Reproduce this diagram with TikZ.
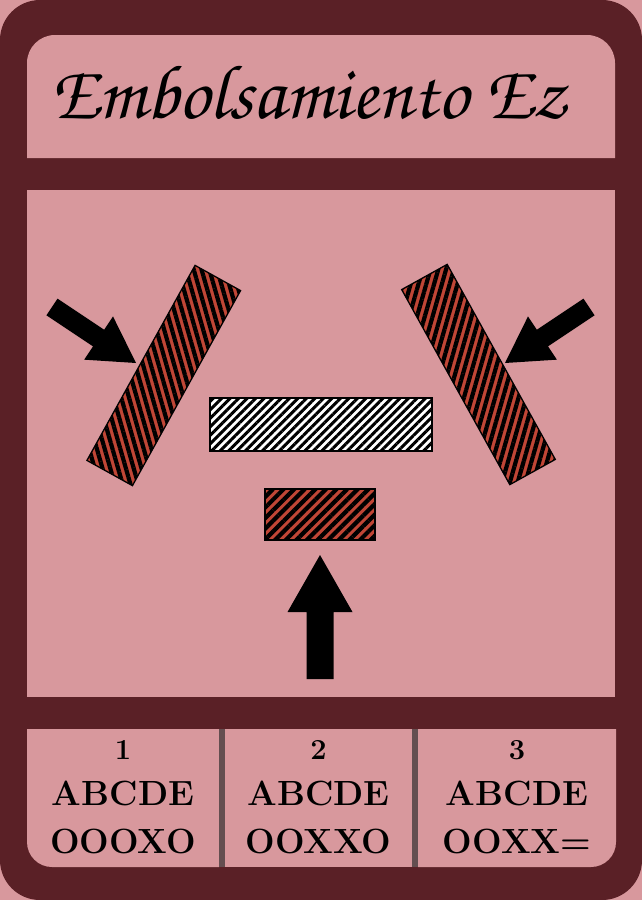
\documentclass[tikz,border=0pt]{standalone}
\usepackage[T1,TU]{fontenc}
\usetikzlibrary{patterns.meta}
\definecolor{cardred}{RGB}{90,32,38}
\definecolor{panelpink}{RGB}{216,152,157}
\definecolor{sepgray}{RGB}{100,78,80}
\definecolor{stripered}{RGB}{192,70,54}
\newcommand\chancery{\fontencoding{T1}\fontfamily{pzc}\fontseries{m}\fontshape{it}\selectfont}
\tikzset{
  hatchbar/.style={draw=black, line width=1.3pt, inner sep=0pt, minimum height=52, pattern color=black},
  whitebar/.style={hatchbar, preaction={fill=white}},
  redbar/.style={hatchbar, preaction={fill=stripered}},
  numline/.style={font=\bfseries\fontsize{29}{29}\selectfont, anchor=base},
  codeline/.style={font=\bfseries\fontsize{35}{35}\selectfont, anchor=base},
}
\begin{document}
\begin{tikzpicture}[x=1pt, y=-1pt]
    \fill[panelpink] (0,0) rectangle (642,900);
    \fill[cardred, rounded corners=40pt] (0,0) rectangle (642,900);
    % panels
    \fill[panelpink] (27,158) -- (27,63) arc[start angle=180, end angle=270, radius=28] -- (587,35) arc[start angle=270, end angle=360, radius=28] -- (615,158) -- cycle;
    \fill[panelpink] (27,190) rectangle (615,697);
    \fill[panelpink] (219,729) -- (27,729) -- (27,842) arc[start angle=180, end angle=90, radius=25] -- (219,867) -- cycle;
    \fill[panelpink] (225,729) rectangle (412,867);
    \fill[panelpink] (418,729) -- (616,729) -- (616,842) arc[start angle=0, end angle=90, radius=25] -- (418,867) -- cycle;
    \fill[sepgray] (219,729) rectangle (225,867);
    \fill[sepgray] (412,729) rectangle (418,867);

    \node (title) [font=\chancery\fontsize{77}{77}\selectfont, anchor=base] at (309,118) {Embolsamiento Ez};

    \node (plate) [whitebar, minimum width=222, minimum height=53, pattern={Lines[angle=45, distance=6pt, line width=3pt]}] at (321,424.5) {};
    \node (block) [redbar, minimum width=110, minimum height=51, pattern={Lines[angle=45, distance=7.5pt, line width=4.2pt]}] at (320,514.5) {};
    \node (leftbar) [redbar, minimum width=223, rotate=61, pattern={Lines[angle=106, distance=7.5pt, line width=4.2pt]}] at (163.75,375.5) {};
    \node (rightbar) [redbar, minimum width=223, rotate=-61, pattern={Lines[angle=74, distance=7.5pt, line width=4.2pt]}] at (478.5,374.5) {};

    % arrows
    \begin{scope}[shift={(136,363)}, rotate=-33.7]
        \fill (0,0) -- (-45,-26) -- (-45,-10) -- (-101,-10) -- (-101,10) -- (-45,10) -- (-45,26) -- cycle;
    \end{scope}
    \begin{scope}[shift={(505,363)}, rotate=-146.3]
        \fill (0,0) -- (-45,-26) -- (-45,-10) -- (-101,-10) -- (-101,10) -- (-45,10) -- (-45,26) -- cycle;
    \end{scope}
    \begin{scope}[shift={(320,555)}, rotate=90]
        \fill (0,0) -- (-57,-32.5) -- (-57,-13.5) -- (-124,-13.5) -- (-124,13.5) -- (-57,13.5) -- (-57,32.5) -- cycle;
    \end{scope}

    \node (num1) [numline] at (123,759) {1};
    \node (num2) [numline] at (318.5,759) {2};
    \node (num3) [numline] at (517,759) {3};
    \node (keys1) [codeline] at (123,805) {ABCDE};
    \node (keys2) [codeline] at (318.5,805) {ABCDE};
    \node (keys3) [codeline] at (517,805) {ABCDE};
    \node (marks1) [codeline] at (123,853) {OOOXO};
    \node (marks2) [codeline] at (318.5,853) {OOXXO};
    \node (marks3) [codeline] at (517,853) {OOXX=};
\end{tikzpicture}
\end{document}
